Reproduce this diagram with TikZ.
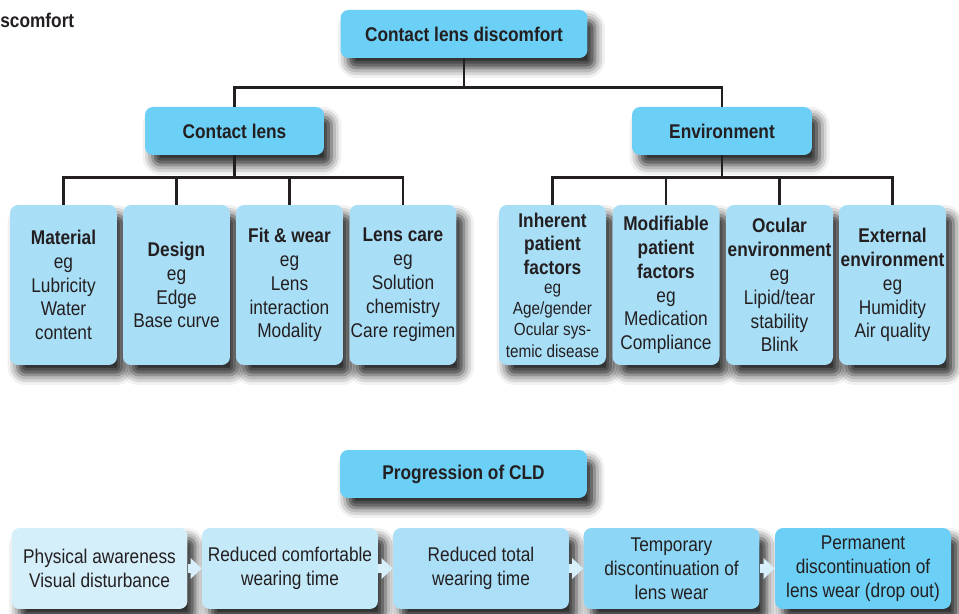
\documentclass[tikz,border=0pt]{standalone}
\usepackage{fontspec}
\setmainfont{Liberation Sans}[FakeStretch=0.87]
\usetikzlibrary{arrows.meta,shadows.blur}

\definecolor{fonce}{HTML}{6CCFF5}
\definecolor{moyen}{HTML}{A9DEF7}
\definecolor{etapeA}{HTML}{D4EEFA}
\definecolor{etapeB}{HTML}{C4E9F9}
\definecolor{etapeC}{HTML}{ABDFF7}
\definecolor{etapeD}{HTML}{8ED6F5}
\definecolor{pale}{HTML}{D6EFFA}
\definecolor{texte}{HTML}{231F20}
\newcommand\corps{\fontsize{11.3}{13.6}\selectfont}
\newcommand\petit{\fontsize{10}{12}\selectfont}

\begin{document}
\begin{tikzpicture}[x=0.02cm,y=-0.02cm,
  boite/.style={rounded corners=0.16cm, align=center, inner sep=0pt, text=texte, font=\corps,
    blur shadow={shadow xshift=0.15cm, shadow yshift=-0.2cm, shadow blur radius=0.2cm, shadow opacity=85}},
  titre/.style={boite, fill=fonce, minimum width=4.94cm, minimum height=0.96cm, font=\corps\bfseries},
  facteur/.style={boite, fill=moyen, minimum width=2.14cm, minimum height=3.2cm},
  etape/.style={boite, minimum width=3.52cm, minimum height=1.62cm},
  lien/.style={line width=1.4pt, draw=texte},
  fleche/.style={draw=pale, line width=0.18cm, -{Triangle[length=0.22cm, width=0.4cm]}}]

\useasboundingbox (0,0) rectangle (959,614);

% Reste du titre
\node[anchor=base west, inner sep=0pt, text=texte, font=\corps\bfseries] (reste) at (0,28) {scomfort};

% Titres
\node[titre] (cld) at (464,34) {Contact lens discomfort};
\node[titre, minimum width=3.58cm] (lentille) at (234.5,131) {Contact lens};
\node[titre, minimum width=3.6cm] (env) at (722,131) {Environment};

% Facteurs lentille
\node[facteur] (mat) at (63.5,285) {\textbf{Material}\\eg\\Lubricity\\Water\\content};
\node[facteur] (des) at (176.5,285) {\textbf{Design}\\eg\\Edge\\Base curve};
\node[facteur] (fit) at (289.5,285) {\textbf{Fit \& wear}\\eg\\Lens\\interaction\\Modality};
\node[facteur] (soin) at (403,285) {\textbf{Lens care}\\eg\\Solution\\chemistry\\Care regimen};

% Facteurs environnement
\node[facteur] (inh) at (552.5,285) {\textbf{Inherent}\\\textbf{patient}\\\textbf{factors}\\[-3pt]
  \petit eg\\[-1.5pt]\petit Age/gender\\[-1.5pt]\petit Ocular sys-\\[-1.5pt]\petit temic disease};
\node[facteur] (modif) at (666,285) {\textbf{Modifiable}\\\textbf{patient}\\\textbf{factors}\\eg\\Medication\\Compliance};
\node[facteur] (ocul) at (779.5,285) {\textbf{Ocular}\\\textbf{environment}\\eg\\Lipid/tear\\stability\\Blink};
\node[facteur] (ext) at (892.5,285) {\textbf{External}\\\textbf{environment}\\eg\\Humidity\\Air quality};

% Arbre
\draw[lien] (cld.south) -- ++(0,29) -| (lentille.north);
\draw[lien] (cld.south) -- ++(0,29) -| (env.north);
\foreach \f in {mat,des,fit,soin}
  \draw[lien] (lentille.south) -- ++(0,22) -| (\f.north);
\foreach \f in {inh,modif,ocul,ext}
  \draw[lien] (env.south) -- ++(0,22) -| (\f.north);

% Progression
\node[titre] (prog) at (463.5,474) {Progression of CLD};
\node[etape, fill=etapeA] (e1) at (99.5,568.5) {Physical awareness\\Visual disturbance};
\node[etape, fill=etapeB] (e2) at (290,568.5) {Reduced comfortable\\wearing time};
\node[etape, fill=etapeC] (e3) at (481,568.5) {Reduced total\\wearing time};
\node[etape, fill=etapeD] (e4) at (671.5,568.5) {Temporary\\discontinuation of\\lens wear};
\node[etape, fill=fonce] (e5) at (863,568.5) {Permanent\\discontinuation of\\lens wear (drop out)};

\draw[fleche] (e1.east) -- (e2.west);
\draw[fleche] (e2.east) -- (e3.west);
\draw[fleche] (e3.east) -- (e4.west);
\draw[fleche] (e4.east) -- (e5.west);

\end{tikzpicture}
\end{document}
